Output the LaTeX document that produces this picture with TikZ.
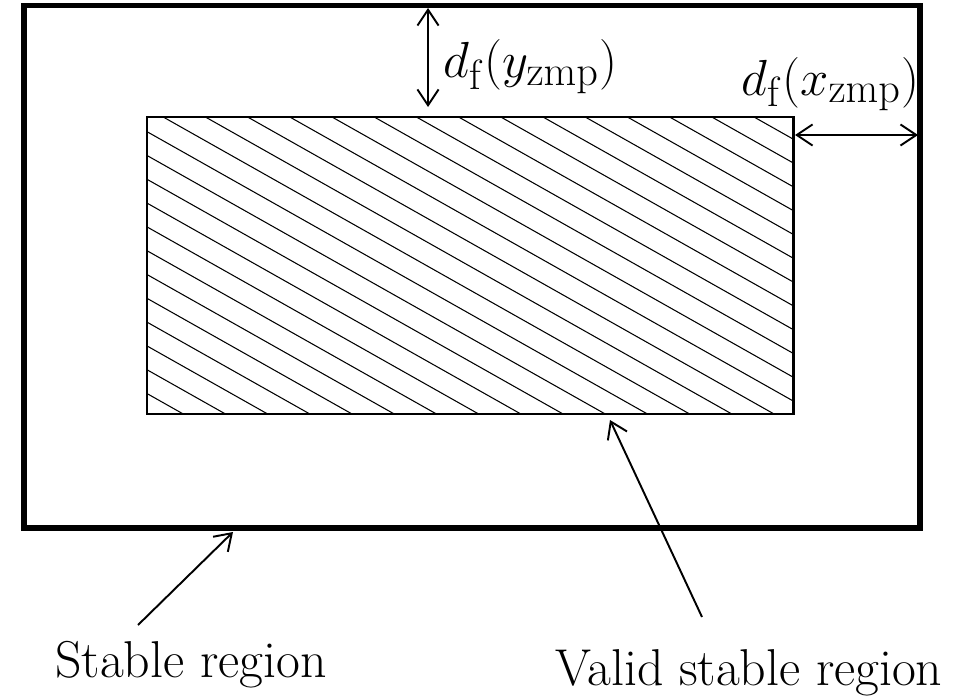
\documentclass[tikz,border=0pt]{standalone}
\usepackage{amsmath,amssymb}
\usetikzlibrary{arrows.meta}

\begin{document}
\begin{tikzpicture}[>={Straight Barb[length=9pt,width=12pt]},
    hatchline/.style={line width=0.6pt},
    dimarrow/.style={<->, line width=1.1pt},
    pointer/.style={->, line width=1.1pt},
    lbl/.style={font=\fontsize{29.5}{34}\selectfont, inner sep=0pt},
    mathlbl/.style={font=\fontsize{24.88}{30}\selectfont, scale=1.16, inner sep=0pt, anchor=base west}]
  \useasboundingbox (0,0) rectangle (19.28,13.9);
  \coordinate (outerSW) at (0.48,3.34);
  \coordinate (outerNE) at (18.40,13.79);
  \coordinate (innerSW) at (2.94,5.62);
  \coordinate (innerNE) at (15.86,11.56);
  \begin{scope}
    \clip (innerSW) rectangle (innerNE);
    \foreach \k in {-14,...,16} \draw[hatchline] ({2.42+0.844*\k},11.56) -- ++(10.99,-6.2);
  \end{scope}
  \draw[line width=1.7pt] (innerSW) rectangle (innerNE);
  \draw[line width=3.1pt] (outerSW) rectangle (outerNE);
  \coordinate (dyTop) at (8.56,13.74);
  \coordinate (dyBot) at (8.56,11.76);
  \draw[dimarrow] (dyTop) -- (dyBot);
  \node[mathlbl] (dyLbl) at (8.86,12.34) {$d_{\mathrm{f}}(y_{\mathrm{zmp}})$};
  \coordinate (dxLeft) at (15.90,11.20);
  \coordinate (dxRight) at (18.36,11.20);
  \draw[dimarrow] (dxLeft) -- (dxRight);
  \node[mathlbl] (dxLbl) at (14.82,12.0) {$d_{\mathrm{f}}(x_{\mathrm{zmp}})$};
  \node[lbl, anchor=base west] (stableLbl) at (1.10,0.36) {Stable region};
  \node[lbl, anchor=base west] (validLbl) at (11.10,0.20) {Valid stable region};
  \coordinate (stableFrom) at (2.76,1.40);
  \coordinate (stableTo) at (4.66,3.26);
  \draw[pointer] (stableFrom) -- (stableTo);
  \coordinate (validFrom) at (14.04,1.56);
  \coordinate (validTo) at (12.20,5.50);
  \draw[pointer] (validFrom) -- (validTo);
\end{tikzpicture}
\end{document}
